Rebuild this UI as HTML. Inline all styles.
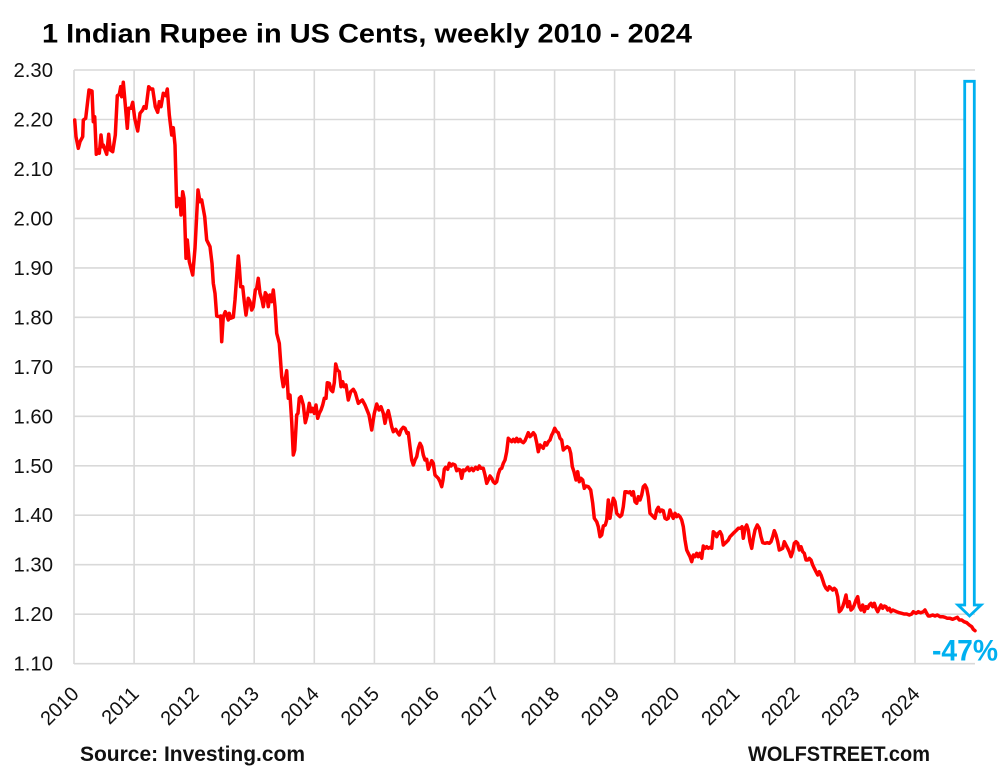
<!DOCTYPE html>
<html>
<head>
<meta charset="utf-8">
<style>
html,body{margin:0;padding:0;background:#fff;}
svg{display:block;}
text{font-family:"Liberation Sans",Arial,sans-serif;}
</style>
</head>
<body>
<svg width="1005" height="779" viewBox="0 0 1005 779" xmlns="http://www.w3.org/2000/svg">
<rect x="0" y="0" width="1005" height="779" fill="#fff"/>
<text x="42" y="42.5" font-size="27" font-weight="bold" fill="#000" textLength="650" lengthAdjust="spacingAndGlyphs">1 Indian Rupee in US Cents, weekly 2010 - 2024</text>

<g stroke="#d9d9d9" stroke-width="1.6" fill="none">
<line x1="74" y1="70" x2="975" y2="70"/>
<line x1="74" y1="119.5" x2="975" y2="119.5"/>
<line x1="74" y1="168.9" x2="975" y2="168.9"/>
<line x1="74" y1="218.4" x2="975" y2="218.4"/>
<line x1="74" y1="267.9" x2="975" y2="267.9"/>
<line x1="74" y1="317.3" x2="975" y2="317.3"/>
<line x1="74" y1="366.8" x2="975" y2="366.8"/>
<line x1="74" y1="416.3" x2="975" y2="416.3"/>
<line x1="74" y1="465.8" x2="975" y2="465.8"/>
<line x1="74" y1="515.2" x2="975" y2="515.2"/>
<line x1="74" y1="564.7" x2="975" y2="564.7"/>
<line x1="74" y1="614.2" x2="975" y2="614.2"/>
<line x1="74" y1="663.7" x2="975" y2="663.7"/>
<line x1="74" y1="70" x2="74" y2="664"/>
<line x1="134.1" y1="70" x2="134.1" y2="664"/>
<line x1="194.1" y1="70" x2="194.1" y2="664"/>
<line x1="254.2" y1="70" x2="254.2" y2="664"/>
<line x1="314.3" y1="70" x2="314.3" y2="664"/>
<line x1="374.4" y1="70" x2="374.4" y2="664"/>
<line x1="434.4" y1="70" x2="434.4" y2="664"/>
<line x1="494.5" y1="70" x2="494.5" y2="664"/>
<line x1="554.6" y1="70" x2="554.6" y2="664"/>
<line x1="614.6" y1="70" x2="614.6" y2="664"/>
<line x1="674.7" y1="70" x2="674.7" y2="664"/>
<line x1="734.8" y1="70" x2="734.8" y2="664"/>
<line x1="794.8" y1="70" x2="794.8" y2="664"/>
<line x1="854.9" y1="70" x2="854.9" y2="664"/>
<line x1="915" y1="70" x2="915" y2="664"/>
</g>

<g font-size="20" fill="#111" text-anchor="end">
<text x="53" y="77" textLength="39.5" lengthAdjust="spacingAndGlyphs">2.30</text>
<text x="53" y="126.5" textLength="39.5" lengthAdjust="spacingAndGlyphs">2.20</text>
<text x="53" y="175.9" textLength="39.5" lengthAdjust="spacingAndGlyphs">2.10</text>
<text x="53" y="225.4" textLength="39.5" lengthAdjust="spacingAndGlyphs">2.00</text>
<text x="53" y="274.9" textLength="39.5" lengthAdjust="spacingAndGlyphs">1.90</text>
<text x="53" y="324.3" textLength="39.5" lengthAdjust="spacingAndGlyphs">1.80</text>
<text x="53" y="373.8" textLength="39.5" lengthAdjust="spacingAndGlyphs">1.70</text>
<text x="53" y="423.3" textLength="39.5" lengthAdjust="spacingAndGlyphs">1.60</text>
<text x="53" y="472.8" textLength="39.5" lengthAdjust="spacingAndGlyphs">1.50</text>
<text x="53" y="522.2" textLength="39.5" lengthAdjust="spacingAndGlyphs">1.40</text>
<text x="53" y="571.7" textLength="39.5" lengthAdjust="spacingAndGlyphs">1.30</text>
<text x="53" y="621.2" textLength="39.5" lengthAdjust="spacingAndGlyphs">1.20</text>
<text x="53" y="670.7" textLength="39.5" lengthAdjust="spacingAndGlyphs">1.10</text>
</g>

<g font-size="20" fill="#111" text-anchor="end">
<text transform="translate(80,695) rotate(-45)">2010</text>
<text transform="translate(140.1,695) rotate(-45)">2011</text>
<text transform="translate(200.1,695) rotate(-45)">2012</text>
<text transform="translate(260.2,695) rotate(-45)">2013</text>
<text transform="translate(320.3,695) rotate(-45)">2014</text>
<text transform="translate(380.4,695) rotate(-45)">2015</text>
<text transform="translate(440.4,695) rotate(-45)">2016</text>
<text transform="translate(500.5,695) rotate(-45)">2017</text>
<text transform="translate(560.6,695) rotate(-45)">2018</text>
<text transform="translate(620.6,695) rotate(-45)">2019</text>
<text transform="translate(680.7,695) rotate(-45)">2020</text>
<text transform="translate(740.8,695) rotate(-45)">2021</text>
<text transform="translate(800.8,695) rotate(-45)">2022</text>
<text transform="translate(860.9,695) rotate(-45)">2023</text>
<text transform="translate(921,695) rotate(-45)">2024</text>
</g>

<polygon points="964.7,81.3 974.3,81.3 974.3,605 981,605 969.5,616 958,605 964.7,605" fill="#fff" stroke="#00b0f0" stroke-width="2.8" stroke-linejoin="miter"/>

<polyline fill="none" stroke="#ff0000" stroke-width="3.5" stroke-linejoin="round" stroke-linecap="round" points="74.7,120 76,136.7 78.3,148.3 80,141.7 82.7,136.7 83.3,120 85.7,118.3 89,90 92,91 93.3,121.7 94.7,116.7 96.3,154.3 98,150 99.3,153.3 101,135 102.3,146.7 103.3,145 106.7,154.3 108.7,134.3 110.3,150 112.7,151.7 115.3,135 117.3,95.7 119.3,94.3 120.7,86.7 121.7,96.7 123.3,82.3 125,101.7 127.3,128.3 128.7,108.3 131,108.3 132.7,102.3 134.7,118.3 137.7,131 140,113.3 142.7,110 144,106.7 146,108.3 148.7,86.7 150.7,89 152.7,89 155.3,106.7 157.7,112.3 159.3,101.7 161,106.7 163.3,93.3 165.7,95.7 167.3,89 169.3,115 171.7,135 173.3,127.7 175,145 176.7,206.7 178,198.3 180,199 181,215 182.7,191.7 184,198.3 186,258.3 187.3,240 189.3,261.7 192.7,275 195,248.3 198,190 200,201.7 201.7,200 204.7,216.7 206.7,240 210,246.7 212,263.3 213.3,283.3 215,293.3 216.7,316 219.3,316.7 220.7,316 221.7,341.7 223.3,316.7 225.3,311.7 226.7,315 228.3,320 229.3,313.3 230.7,318.3 233.3,317.3 235,300 236.7,276.7 238.3,256 239.3,266.7 240.7,286.7 242.7,286.7 244.3,301.7 246,315 248.3,298.3 250,301.7 251.7,310 253.3,306.7 255.3,290 256.7,288.3 258.3,278.3 260,293.3 262,300 263.3,306.7 265.3,292.7 266.7,295 268.3,306.7 270,295 271.7,301.7 273.3,290 275,306.7 276.7,333.3 279.3,343.3 281.7,376.7 283.3,386.7 285,380 286.7,370.7 288.3,398.3 290,395 291.7,421.7 293.3,455 294.7,450 296.7,415 298,413.3 299.3,398.3 301,396.7 303.3,405 305.3,422.7 307.3,415 309.3,403.3 311,411.7 312.7,408.3 314.3,413.3 316,405 317.7,418.3 319.3,413.3 321,410 322.7,405 324.3,398.3 326,398.3 327.3,382.7 329.3,383.3 331,390 332.7,391.7 334.3,382.7 335.7,364 337.3,370 339.3,371.7 341,386.7 342.7,381.7 344,386.7 346,385 348.3,400 350.7,391.7 353.3,389.3 355.3,392.7 358.3,403.3 360,401.7 362.3,400 365,405 367.7,411.7 369,415 371.7,430 374.3,413.3 376.7,404 379,410 381,406.7 383.3,413.3 385,423.3 386.7,415 388.3,410.7 390,418.3 391.7,426.7 393.3,431.7 395.7,429.3 397.7,432.7 399.3,435 401,430 403.3,427.3 405,428.3 407,433.3 408.3,432.7 410,446.7 411.7,460 413.3,465 415,460 416.7,456.7 418.3,448.3 420,443.3 421.7,446.7 423.3,455 425,460 426.7,459.3 428.3,469.3 430,465 431.7,460.7 433.3,463.3 435,475 436.7,476.7 438.3,478.3 440,481.7 441.7,486.7 443,480 444.3,469.3 445.7,467.3 447.7,469.3 449.3,463.3 451,466 452.7,464 455,465 456.7,470.7 458.3,469.3 460,470 461.7,478.3 463.3,470 465,470.7 467.7,467.3 469.3,470.7 471.7,468.3 473.3,470.7 475.7,467.3 477.7,469.3 479.3,466 481,468.3 483.3,468.3 485,475 486.7,483.3 488.3,480 490,476 491.7,478.3 493.3,481.7 495,483.3 496.7,481.7 498.3,474 500,469.3 501.7,468.3 503.3,463.3 505,460 506.7,451.7 508.3,438.3 510,440 511.7,441.7 513.3,439.3 515,441.7 516.7,438.3 518.3,441.7 520,439.3 521.7,441.7 523.3,442.7 525,440.7 526.7,436.7 528.3,432.7 530,436.7 531.7,435 533.3,432.7 535,435 536.7,442.7 538.3,451.7 540,445 541.7,446.7 543.3,448.3 545,442.7 546.7,445 548.3,441.7 550,440 551.7,435 552.7,433.3 554.7,428.3 556.7,431.7 558.3,432.7 560,438.3 561.7,440 563.3,450 565,448.3 567.3,446.7 569.3,448.3 570.7,453.3 572.3,466.7 574,471.7 576,480 577.7,471.7 579.3,481.7 581,478.3 582.7,480 584.3,488.3 586,486 588.3,486.7 590.7,490 592.7,503.3 594.3,518.3 596.7,521.7 598.3,526.7 600,536.7 601.7,535 603.3,526 605.3,525 606.7,520 608.3,500 610,518.3 611.7,506.7 613.3,498.3 615,501.7 616.7,513.3 618.3,515 620,516.7 621.7,515 623.3,506.7 625,491.7 626.7,491.7 628.3,492.7 630,491.7 631.7,495 633.3,491.7 635,501.7 636.7,503.3 638.3,496.7 640,500 641.7,495 643.3,486.7 645,485 646.7,488.3 648.3,496.7 650,513.3 651.7,515 653.3,516.7 655,518.3 656.7,510 658.3,507.3 660,511.7 661.7,510 663.3,510.7 665,518.3 666.7,519.3 668.3,518.3 670,510 671.7,515 673.3,518.3 675,513.3 676.7,516.7 678.3,515 680,516.7 681.7,520 683.3,526.7 685,540 686.7,550 688.3,553.3 690,556.7 691.7,561.7 693.3,555 695,556.7 696.7,553.3 698.3,556.7 700,553.3 701.7,558.3 703.3,546 705,548.3 706.7,546.7 708.3,548.3 710,547.3 711.7,548.3 713.3,531.7 715,533.3 716.7,536.7 718.3,533.3 720,531.7 721.7,535 723.3,545 725,543.3 726.7,541.7 728.3,540 730,536.7 731.7,535 733.3,533.3 735,531.7 736.7,530 738.3,528.3 740.7,528.3 742,526.7 743.3,538.3 745,528.3 746.7,525 748.3,530 750,541.7 751.7,548.3 753.3,538.3 755,530 757.3,525 759.3,528.3 761,536.7 762.7,542.7 765,543.3 767.3,542.7 769.3,543.3 771,541.7 772.7,536.7 774.3,530.7 776,535 777.7,541.7 779.3,550 781,549.3 782.7,548.3 784.3,541.7 786,545 787.7,548.3 789.3,551.7 791,556.7 792.7,551.7 794.3,543.3 796,541.7 797.7,543.3 799.3,550 801,546.7 802.7,551.7 804.3,553.3 806,560 807.7,560 809.3,558.3 811,560 812.7,565 814.3,568.3 816,571.7 817.7,575 819.3,571.7 821,575 822.7,580 824.3,585 826,588.3 827.7,590 829.3,586.7 831,588.3 832.7,590 834.3,588.3 836,590 837.7,596.7 839.3,611.7 841,610 842.7,606.7 844.3,601.7 846,595 847.7,606.7 849.3,601.7 851,610 852.7,608.3 854.3,605 856,600 857.7,596.7 859.3,606.7 861,610 862.7,605 864.3,611.7 866,606.7 867.7,608.3 869.3,605 871,603.3 872.7,606.7 874.3,603.3 876,608.3 877.7,611.7 879.3,608.3 881,605 882.7,608.3 884.3,606 886,606.7 887.7,610 889.3,608.3 891,611.7 892.7,610 894.3,610.7 896.7,611.7 899.3,612.7 901.7,613.3 904,614 906.7,614 909.3,615 911.7,614 913.3,611.7 916,613.3 918.3,611.7 920.7,612.7 923.3,611.7 925,610 926.7,613.3 928.3,616 930,616 932.7,615 935,616 937.3,615 940,616.7 942.7,616.7 945,617.3 947.3,618.3 950,618.3 952.7,619.3 955,618.3 957.3,617.3 959.3,620 961.7,620 964,621.7 966.7,622.7 969.3,625 971.7,626.7 973.3,629.3 975,630.7"/>

<text x="932" y="660.5" font-size="30" font-weight="bold" fill="#00b0f0" textLength="66" lengthAdjust="spacingAndGlyphs">-47%</text>

<text x="80" y="761" font-size="21" font-weight="bold" fill="#111" textLength="225" lengthAdjust="spacingAndGlyphs">Source: Investing.com</text>
<text x="748" y="761" font-size="21" font-weight="bold" fill="#111" textLength="182" lengthAdjust="spacingAndGlyphs">WOLFSTREET.com</text>
</svg>
</body>
</html>
